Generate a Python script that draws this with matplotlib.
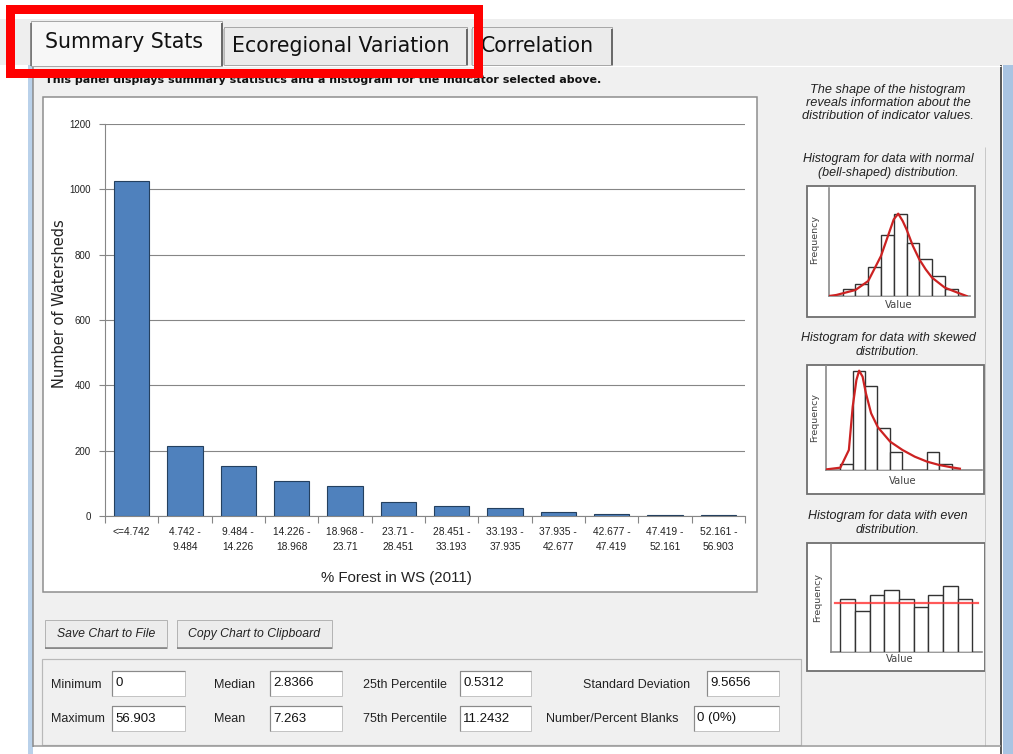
import matplotlib
matplotlib.use("Agg")
import matplotlib.pyplot as plt
from matplotlib.patches import Rectangle
from matplotlib import font_manager

W, H = 1013, 754

installed = {f.name for f in font_manager.fontManager.ttflist}
NARROW = 'Liberation Sans Narrow' if 'Liberation Sans Narrow' in installed else 'Liberation Sans'

# ---- main histogram data
bin_labels = ["<=4.742", "4.742 -\n9.484", "9.484 -\n14.226", "14.226 -\n18.968",
              "18.968 -\n23.71", "23.71 -\n28.451", "28.451 -\n33.193", "33.193 -\n37.935",
              "37.935 -\n42.677", "42.677 -\n47.419", "47.419 -\n52.161", "52.161 -\n56.903"]
counts = [1025, 213, 152, 108, 93, 42, 32, 26, 11, 7, 4, 4]
y_ticks = [0, 200, 400, 600, 800, 1000, 1200]

# ---- tabs and texts
tab_names = ["Summary Stats", "Ecoregional Variation", "Correlation"]
panel_note = "This panel displays summary statistics and a histogram for the indicator selected above."
side_intro = "The shape of the histogram\nreveals information about the\ndistribution of indicator values."
side_titles = ["Histogram for data with normal\n(bell-shaped) distribution.",
               "Histogram for data with skewed\ndistribution.",
               "Histogram for data with even\ndistribution."]
buttons = ["Save Chart to File", "Copy Chart to Clipboard"]

# ---- stats
row1_names = ["Minimum", "Median", "25th Percentile", "Standard Deviation"]
row1_vals = ["0", "2.8366", "0.5312", "9.5656"]
row2_names = ["Maximum", "Mean", "75th Percentile", "Number/Percent Blanks"]
row2_vals = ["56.903", "7.263", "11.2432", "0 (0%)"]

# ---- example mini histograms
normal_bars = [2.2, 3.7, 8.6, 18.2, 24.7, 15.9, 11.1, 5.9, 2.2]
normal_curve_x = [-1.07, -0.5, 0, 1, 2, 3, 3.5, 4, 4.35, 4.7, 5, 5.5, 6, 6.5, 7, 8, 9, 9.7]
normal_curve_y = [0, 0.3, 0.8, 1.8, 4.5, 12, 17.5, 23, 24.7, 22.5, 20, 15, 11, 8, 5.5, 2.5, 1.0, 0]

skew_bars = [1.8, 29.8, 25.2, 12.5, 5.5, 0, 0, 5.3, 1.8]
skew_curve_x = [-1.1, 0, 0.69, 1.0, 1.3, 1.52, 1.8, 2.07, 2.49, 3.04, 4.03, 5.03, 6.02, 7.02, 8.0, 9.0, 9.67]
skew_curve_y = [0.2, 0.7, 6.0, 19.0, 27.0, 29.8, 28.0, 23.0, 17.0, 12.8, 8.5, 6.0, 4.0, 2.5, 1.5, 0.8, 0.4]

even_bars = [15.8, 12.2, 17.1, 18.6, 15.8, 13.5, 17.1, 19.8, 15.8]
even_level = 14.7

fig = plt.figure(figsize=(W / 100, H / 100), dpi=100)
fig.patch.set_facecolor('white')
ui = fig.add_axes([0, 0, 1, 1])
ui.set_xlim(0, W)
ui.set_ylim(H, 0)
ui.axis('off')


def px(v):
    return v * 0.72


def rect(x0, y0, x1, y1, fc='none', ec='none', lw=1, z=1):
    ui.add_patch(Rectangle((x0, y0), x1 - x0, y1 - y0, facecolor=fc, edgecolor=ec, linewidth=px(lw), zorder=z))


def line(xs, ys, c, lw=1, z=2):
    ui.plot(xs, ys, color=c, lw=px(lw), zorder=z, solid_capstyle='butt')


def px_axes(x0, y0, x1, y1):
    return fig.add_axes([x0 / W, 1 - y1 / H, (x1 - x0) / W, (y1 - y0) / H])


# background pieces
rect(0, 19, W, 65, fc='#eeeeee', z=0)
rect(33, 65, 1001, 747, fc='#f0f0f0', z=0)
rect(28, 65, 33, H, fc='#b9d1ea', z=0)
rect(1003, 65, W, H, fc='#a9c4e2', z=0)
line([1001, 1001], [65, H], '#5a5a5a', 2)
line([985, 985], [147, 746], '#c8c8c8', 1)
line([33, 1001], [746, 746], '#9a9a9a', 1.5)
line([33, 33], [65, 747], '#8a8a8a', 1.5)
line([33, 1001], [65.5, 65.5], 'white', 1)

# tabs
tab_boxes = [(31, 21, 222, 66), (224, 27, 467, 65), (472, 27, 612, 65)]
tab_text_x = [45, 232, 481]
for i, name in enumerate(tab_names):
    x0, y0, x1, y1 = tab_boxes[i]
    rect(x0, y0, x1, y1, fc='#f7f7f7' if i == 0 else '#ebebeb', ec='#a8a8a8', lw=1, z=2)
    line([x1, x1], [y0 + 2, y1], '#6a6a6a', 2, z=3)
    line([x0, x0], [y0 + 2, y1], '#6a6a6a' if i == 0 else '#bdbdbd', 1.5, z=3)
    ui.text(tab_text_x[i], (y0 + y1) / 2 + (-1 if i == 0 else 0), name, fontsize=14.8,
            family='DejaVu Sans', color='#111111', ha='left', va='center', zorder=4)

ui.text(45, 80, panel_note, fontsize=8.0, fontweight='bold', family='DejaVu Sans',
        color='#111111', ha='left', va='center', zorder=2)

# red highlight
rect(9.5, 8.5, 477.5, 72.5, ec='#ff0000', lw=9, z=6)

# chart box
rect(43, 97, 757, 592, fc='white', ec='#8c8c8c', lw=1.5, z=1)

ax = px_axes(105, 124, 745, 516)
xs = list(range(len(counts)))
ax.bar(xs, counts, width=0.66, color='#4f81bd', edgecolor='#24405f', linewidth=0.8, zorder=3)
ax.set_xlim(-0.5, len(counts) - 0.5)
ax.set_ylim(0, 1200)
ax.set_yticks(y_ticks)
ax.set_yticklabels([str(v) for v in y_ticks], fontsize=7, family=NARROW, color='#222222')
ax.tick_params(axis='y', length=4, color='#868686', pad=6)
ax.set_xticks([i - 0.5 for i in range(len(counts) + 1)])
ax.set_xticklabels([])
ax.tick_params(axis='x', which='major', length=5, color='#868686')
ax.set_xticks(xs, minor=True)
ax.set_xticklabels(bin_labels, minor=True, fontsize=7.4, family=NARROW, color='#222222',
                   linespacing=1.55, va='top')
ax.tick_params(axis='x', which='minor', length=0, pad=8)
ax.grid(axis='y', color='#868686', linewidth=0.8, zorder=0)
ax.set_axisbelow(True)
for s in ['top', 'right']:
    ax.spines[s].set_visible(False)
for s in ['left', 'bottom']:
    ax.spines[s].set_color('#868686')
    ax.spines[s].set_linewidth(0.8)
ax.set_facecolor('white')
ui.text(60, 304, "Number of Watersheds", rotation=90, fontsize=10.5, family='DejaVu Sans',
        color='#222222', ha='center', va='center', zorder=2)
ui.text(396, 578, "% Forest in WS (2011)", fontsize=10.8, family=NARROW,
        color='#222222', ha='center', va='center', zorder=2)

# side panel texts
ui.text(888, 103, side_intro, fontsize=9.2, family=NARROW, style='italic', color='#222222',
        ha='center', va='center', linespacing=1.15, zorder=2)
title_y = [166, 345, 523]
for t, yy in zip(side_titles, title_y):
    ui.text(888, yy, t, fontsize=9.0, family=NARROW, style='italic', color='#222222',
            ha='center', va='center', linespacing=1.15, zorder=2)


def mini(box, inner, bars, xlim, ylim, freq_xy, value_xy):
    rect(*box, fc='white', ec='#6e6e6e', lw=1.8, z=1)
    m = px_axes(*inner)
    m.axis('off')
    m.set_xlim(*xlim)
    m.set_ylim(*ylim)
    m.bar([i + 0.5 for i in range(len(bars))], bars, width=1.0, facecolor='white',
          edgecolor='#333333', linewidth=1.0, zorder=2)
    m.plot([xlim[0], xlim[0]], [0, ylim[1]], color='#8a8a8a', lw=1.2, clip_on=False, zorder=1)
    m.plot([xlim[0], xlim[1]], [0, 0], color='#8a8a8a', lw=1.2, clip_on=False, zorder=1)
    ui.text(*freq_xy, "Frequency", rotation=90, fontsize=6.8, family='DejaVu Sans',
            color='#444444', ha='center', va='center', zorder=3)
    ui.text(*value_xy, "Value", fontsize=7.2, family='DejaVu Sans',
            color='#444444', ha='center', va='center', zorder=3)
    return m


m1 = mini((807, 186, 975, 317), (829, 188, 970, 296), normal_bars, (-1.07, 9.97), (0, 32.4),
          (815, 240), (899, 305))
m1.plot(normal_curve_x, normal_curve_y, color='#cc2222', lw=1.6, zorder=4)

m2 = mini((807, 365, 984, 494), (826, 366, 982, 470), skew_bars, (-1.16, 11.46), (0, 31.2),
          (815, 418), (903, 481))
m2.plot(skew_curve_x, skew_curve_y, color='#cc2222', lw=1.6, zorder=4)

m3 = mini((807, 543, 985, 671), (831, 544, 982, 652), even_bars, (-0.63, 9.65), (0, 32.3),
          (818, 597), (900, 659))
m3.plot([-0.35, 9.35], [even_level, even_level], color='#ff3030', lw=1.6, alpha=0.8, zorder=4)

# buttons
btn_boxes = [(45, 620, 167, 648), (177, 620, 332, 648)]
for b, (x0, y0, x1, y1) in zip(buttons, btn_boxes):
    rect(x0, y0, x1, y1, fc='#ececec', ec='#b4b4b4', lw=1, z=2)
    line([x0, x1], [y1, y1], '#7a7a7a', 1.5, z=3)
    ui.text((x0 + x1) / 2, (y0 + y1) / 2, b, fontsize=8.8, family=NARROW, style='italic',
            color='#222222', ha='center', va='center', zorder=4)

# stats group box
rect(42, 659, 801, 745, ec='#b8b8b8', lw=1.2, z=1)
label_x = [51, 214, 363, 583]
label_x2 = [51, 214, 363, 546]
box_x = [(112, 185), (270, 342), (460, 531), (707, 779)]
box_x2 = [(112, 185), (270, 342), (460, 531), (694, 779)]
rows = [(row1_names, row1_vals, label_x, box_x, 671, 696), (row2_names, row2_vals, label_x2, box_x2, 706, 731)]
for names, vals, lx, bx, y0, y1 in rows:
    for n, v, x, (b0, b1) in zip(names, vals, lx, bx):
        ui.text(x, (y0 + y1) / 2 + 1, n, fontsize=9, family=NARROW, color='#222222',
                ha='left', va='center', zorder=3)
        rect(b0, y0, b1, y1, fc='white', ec='#c4c4c4', lw=1, z=2)
        line([b0, b0, b1], [y1, y0, y0], '#8a8a8a', 1.2, z=3)
        ui.text(b0 + 3, (y0 + y1) / 2, v, fontsize=9.5, family=NARROW, color='#111111',
                ha='left', va='center', zorder=4)

fig.savefig("out.png", dpi=100)
